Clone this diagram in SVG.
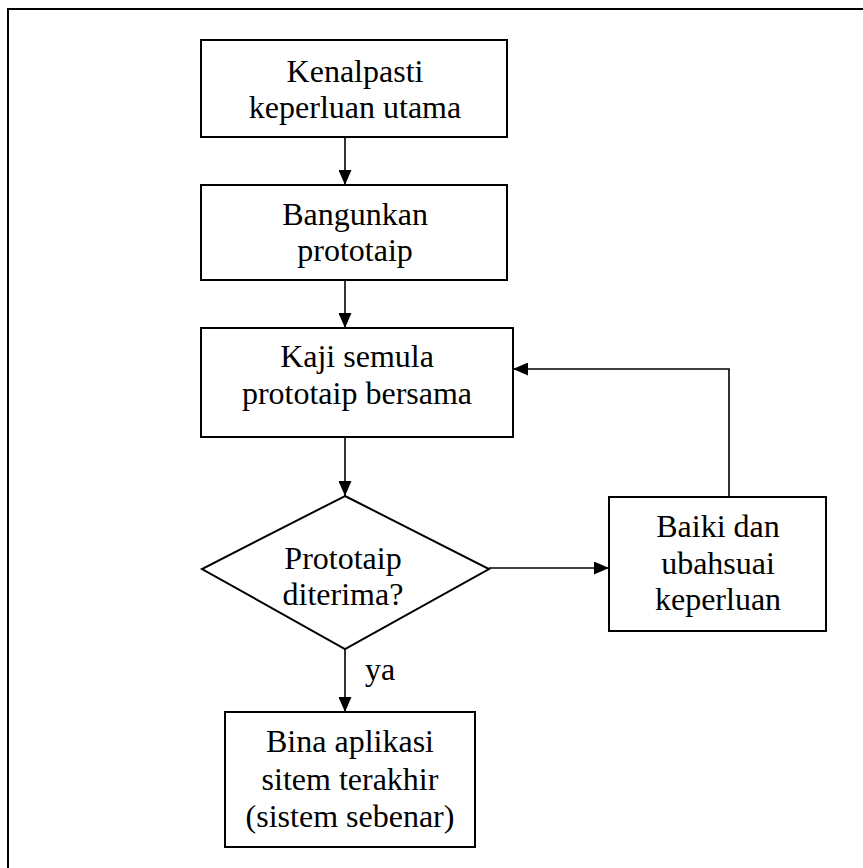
<svg xmlns="http://www.w3.org/2000/svg" width="863" height="868" viewBox="0 0 863 868">
<style>
.n{fill:#fff;stroke:#000;stroke-width:2}
.t{font-family:"Liberation Serif","Times New Roman",serif;font-size:32px;fill:#000;text-anchor:middle}
.c{fill:none;stroke:#000;stroke-width:1.6}
</style>
<defs>
<marker id="ah" viewBox="0 0 15 13" refX="15" refY="6.5" markerWidth="15" markerHeight="13" markerUnits="userSpaceOnUse" orient="auto">
<path d="M0,0 L15,6.5 L0,13 Z" fill="#000"/>
</marker>
</defs>
<rect width="863" height="868" fill="#fff"/>
<rect x="8" y="9" width="900" height="900" fill="none" stroke="#000" stroke-width="2"/>
<g id="connectors">
<line class="c" x1="345" y1="137" x2="345" y2="185" marker-end="url(#ah)"/>
<line class="c" x1="345" y1="280" x2="345" y2="328" marker-end="url(#ah)"/>
<line class="c" x1="345" y1="437" x2="345" y2="496" marker-end="url(#ah)"/>
<line class="c" x1="345" y1="649" x2="345" y2="712" marker-end="url(#ah)"/>
<line class="c" x1="489" y1="568" x2="609" y2="568" marker-end="url(#ah)"/>
<polyline class="c" points="729,497 729,369 513,369" marker-end="url(#ah)"/>
<text class="t" x="380" y="680">ya</text>
</g>
<g id="n1">
<rect class="n" x="201" y="40" width="306" height="97"/>
<text class="t" x="355" y="82">Kenalpasti</text>
<text class="t" x="355" y="118">keperluan utama</text>
</g>
<g id="n2">
<rect class="n" x="201" y="185" width="306" height="95"/>
<text class="t" x="355" y="225">Bangunkan</text>
<text class="t" x="355" y="261">prototaip</text>
</g>
<g id="n3">
<rect class="n" x="201" y="328" width="312" height="109"/>
<text class="t" x="357" y="367">Kaji semula</text>
<text class="t" x="357" y="404">prototaip bersama</text>
</g>
<g id="n4">
<polygon class="n" points="345,496 489,569 345,649 202,569"/>
<text class="t" x="343" y="569">Prototaip</text>
<text class="t" x="343" y="605">diterima?</text>
</g>
<g id="n5">
<rect class="n" x="609" y="497" width="217" height="134"/>
<text class="t" x="718" y="537">Baiki dan</text>
<text class="t" x="718" y="574">ubahsuai</text>
<text class="t" x="718" y="610">keperluan</text>
</g>
<g id="n6">
<rect class="n" x="225" y="712" width="250" height="135"/>
<text class="t" x="350" y="752">Bina aplikasi</text>
<text class="t" x="350" y="790">sitem terakhir</text>
<text class="t" x="350" y="827">(sistem sebenar)</text>
</g>
</svg>
